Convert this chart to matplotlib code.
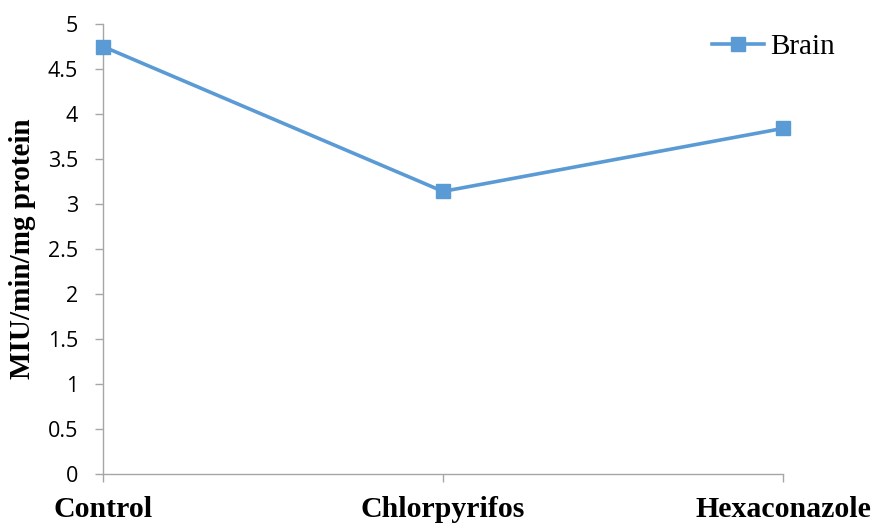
import matplotlib
matplotlib.use("Agg")
import matplotlib.pyplot as plt

categories = ["Control", "Chlorpyrifos", "Hexaconazole"]
brain = [4.75, 3.14, 3.84]
yticks = [0, 0.5, 1, 1.5, 2, 2.5, 3, 3.5, 4, 4.5, 5]
ytick_labels = ["0", "0.5", "1", "1.5", "2", "2.5", "3", "3.5", "4", "4.5", "5"]

W, H = 872, 524
fig = plt.figure(figsize=(W / 100, H / 100), dpi=100)
ax = fig.add_axes([103 / W, 50 / H, 680 / W, 450 / H])

color = "#5B9BD5"
x = list(range(len(categories)))
ax.plot(x, brain, color=color, lw=2.6, marker="s", markersize=10,
        markeredgecolor=color, markerfacecolor=color, label="Brain",
        clip_on=False, zorder=3)

ax.set_xlim(0, len(categories) - 1)
ax.set_ylim(0, 5)
ax.set_yticks(yticks)
ax.set_yticklabels(ytick_labels, fontfamily="Open Sans", fontsize=15.5)
ax.set_xticks(x)
ax.set_xticklabels(categories, fontfamily="Liberation Serif",
                   fontweight="bold", fontsize=21.5)

grey = "#A6A6A6"
for s in ["top", "right"]:
    ax.spines[s].set_visible(False)
for s in ["left", "bottom"]:
    ax.spines[s].set_color(grey)
    ax.spines[s].set_linewidth(1.0)
ax.tick_params(axis="y", direction="out", length=6, width=1.0, color=grey, pad=12)
ax.tick_params(axis="x", direction="out", length=6, width=1.0, color=grey, pad=10)

fig.text(22 / W, 0.525, "MIU/min/mg protein", rotation=90, ha="center",
         va="center", fontfamily="Liberation Serif", fontweight="bold",
         fontsize=21)

leg = ax.legend(loc="center right", bbox_to_anchor=(835 / W, 1 - 47 / H),
                bbox_transform=fig.transFigure, frameon=False,
                prop={"family": "Liberation Serif", "size": 21},
                handlelength=1.8, handletextpad=0.2, borderpad=0,
                borderaxespad=0)

fig.savefig("out.png", dpi=100)
